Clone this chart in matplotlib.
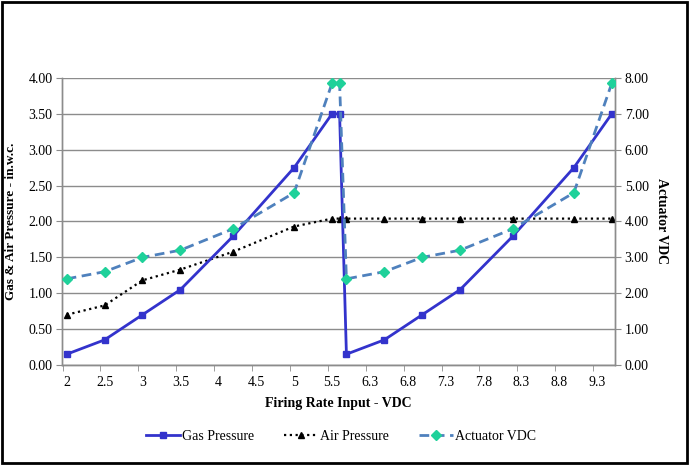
import matplotlib
matplotlib.use("Agg")
import matplotlib.pyplot as plt
from matplotlib.patches import Rectangle

# firing rate positions (axis units) and series values
firing_rate = [2.0, 2.5, 3.0, 3.5, 4.2, 5.0, 5.5, 5.6, 5.69, 6.19, 6.69, 7.19, 7.89, 8.69, 9.19]
gas_pressure = [0.15, 0.35, 0.70, 1.05, 1.80, 2.75, 3.50, 3.50, 0.15, 0.35, 0.70, 1.05, 1.80, 2.75, 3.50]
air_pressure = [0.70, 0.83, 1.18, 1.33, 1.58, 1.93, 2.04, 2.04, 2.04, 2.04, 2.04, 2.04, 2.04, 2.04, 2.04]
actuator_vdc = [2.40, 2.60, 3.00, 3.20, 3.80, 4.80, 7.85, 7.85, 2.40, 2.60, 3.00, 3.20, 3.80, 4.80, 7.85]

tick_pos = [2.0, 2.5, 3.0, 3.5, 4.0, 4.5, 5.0, 5.5, 6.0, 6.5, 7.0, 7.5, 8.0, 8.5, 9.0]
tick_labels = ["2", "2.5", "3", "3.5", "4", "4.5", "5", "5.5",
               "6.3", "6.8", "7.3", "7.8", "8.3", "8.8", "9.3"]

plt.rcParams["font.family"] = ["Liberation Serif", "DejaVu Serif"]
plt.rcParams["font.size"] = 10

fig = plt.figure(figsize=(6.89, 4.65), dpi=100)
ax = fig.add_axes([0.0904, 0.2151, 0.8022, 0.6172])
ax2 = ax.twinx()

grid_c = "#8c8c8c"

ax.plot(firing_rate, gas_pressure, color="#3333cc", lw=2.0, marker="s", ms=5,
        label="Gas Pressure", zorder=4)
ax.plot(firing_rate, air_pressure, color="black", lw=1.6, ls=(0, (1, 1.6)), marker="^", ms=5,
        label="Air Pressure", zorder=3)
ax2.plot(firing_rate, actuator_vdc, color="#4f81bd", lw=2.0, ls=(0, (3.5, 2)), marker="D",
         ms=5, mfc="#1fd19a", mec="#1fd19a", label="Actuator VDC", zorder=3)

ax.set_xlim(1.942, 9.233)
ax.set_ylim(0, 4)
ax2.set_ylim(0, 8)
ax.set_yticks([i * 0.5 for i in range(9)])
ax.set_yticklabels([f"{i * 0.5:.2f}" for i in range(9)])
ax2.set_yticks(range(9))
ax2.set_yticklabels([f"{i:.2f}" for i in range(9)])

ax.set_xticks(tick_pos)
ax.set_xticklabels(tick_labels)
ax.set_xticks([p - 0.055 for p in tick_pos], minor=True)
ax.tick_params(axis="x", which="major", length=0, pad=8)
ax.tick_params(axis="x", which="minor", length=4, color=grid_c, direction="out")
ax.tick_params(axis="y", length=4, color=grid_c, pad=3)
ax2.tick_params(axis="y", length=4, color=grid_c, pad=3)

ax.grid(axis="y", color=grid_c, lw=1.0)
ax.set_axisbelow(True)
for a in (ax, ax2):
    a.spines["top"].set_visible(False)
    for s in ("left", "right", "bottom"):
        a.spines[s].set_color(grid_c)
        a.spines[s].set_linewidth(1.0)

ax.set_xlabel("Firing Rate Input - VDC", fontweight="bold", labelpad=6)
ax.set_ylabel("Gas & Air Pressure - in.w.c.", fontweight="bold", fontsize=9.5, labelpad=8)
ax2.set_ylabel("Actuator VDC", fontweight="bold", rotation=270, labelpad=14)

h1, l1 = ax.get_legend_handles_labels()
h2, l2 = ax2.get_legend_handles_labels()
fig.legend(h1 + h2, l1 + l2, loc="center", bbox_to_anchor=(0.495, 0.062), ncol=3,
           frameon=False, handlelength=2.4, columnspacing=2.2, handletextpad=0.15)

fig.patches.append(Rectangle((0.003, 0.004), 0.994, 0.992, transform=fig.transFigure,
                             fill=False, ec="black", lw=2.0))

fig.savefig("out.png", dpi=100)
